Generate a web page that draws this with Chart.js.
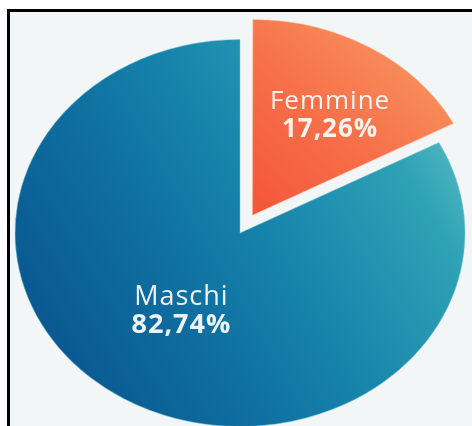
<!DOCTYPE html>
<html>
<head>
<meta charset="utf-8">
<script src="https://cdn.jsdelivr.net/npm/chart.js@4"></script>
<style>
  html, body { margin: 0; padding: 0; width: 472px; height: 426px; overflow: hidden; background: #ffffff; }
  #frame { position: absolute; left: 7px; top: 9px; width: 700px; height: 700px; border: 3px solid #000; background: #f3f6f6; box-sizing: border-box; }
  #wrap { position: absolute; left: 0; top: 0; width: 472px; height: 426px; }
</style>
</head>
<body>
<div id="frame"></div>
<div id="wrap"><canvas id="c"></canvas></div>
<script>
const categories = ['Femmine', 'Maschi'];
const percentages = [17.26, 82.74];
const valueLabels = ['17,26%', '82,74%'];

const SY = 0.86; // vertical squash for the elliptical look

function blueGradient(ctx, arc) {
  const cx = arc.x, cy = arc.y, R = arc.outerRadius;
  const dx = 0.89 * R, dy = -0.45 * R;
  const g = ctx.createLinearGradient(cx - dx, cy - dy, cx + dx, cy + dy);
  g.addColorStop(0, '#0a5990');
  g.addColorStop(0.3, '#0f6e9f');
  g.addColorStop(0.55, '#1683ab');
  g.addColorStop(0.9, '#2ea2b5');
  g.addColorStop(1, '#48b2be');
  return g;
}
function orangeGradient(ctx, arc) {
  const cx = arc.x, cy = arc.y, R = arc.outerRadius;
  const g = ctx.createLinearGradient(cx, cy, cx + 0.85 * R, cy - 0.85 * R);
  g.addColorStop(0, '#f4553a');
  g.addColorStop(0.5, '#f6714a');
  g.addColorStop(1, '#f8975f');
  return g;
}

const squash = {
  id: 'squash',
  beforeDatasetsDraw(chart) {
    const arcs = chart.getDatasetMeta(0).data;
    const ctx = chart.ctx;
    arcs.forEach((arc, i) => {
      arc.options.backgroundColor = i === 0 ? orangeGradient(ctx, arc) : blueGradient(ctx, arc);
    });
    ctx.save();
    ctx.translate(0, arcs[0].y);
    ctx.scale(1, SY);
    ctx.translate(0, -arcs[0].y);
  },
  afterDatasetsDraw(chart) {
    chart.ctx.restore();
    const ctx = chart.ctx;
    const arcs = chart.getDatasetMeta(0).data;
    const radial = [0.6, 0.47];
    const nudgeX = [8, -4];
    const sizes = [26, 27];
    arcs.forEach((arc, i) => {
      const mid = (arc.startAngle + arc.endAngle) / 2;
      const off = (arc.options.offset || 0) / 4;
      const r = off + radial[i] * arc.outerRadius;
      const px = arc.x + Math.cos(mid) * r + nudgeX[i];
      const py = arc.y + Math.sin(mid) * r * SY;
      ctx.save();
      ctx.textAlign = 'center';
      ctx.textBaseline = 'middle';
      ctx.fillStyle = 'rgba(250,250,250,0.95)';
      try { ctx.letterSpacing = '1px'; } catch (e) {}
      ctx.font = '400 ' + sizes[i] + 'px "Open Sans", sans-serif';
      ctx.fillText(categories[i], px, py - 14);
      ctx.font = '700 ' + sizes[i] + 'px "Open Sans", sans-serif';
      ctx.fillText(valueLabels[i], px, py + 14);
      ctx.restore();
    });
  }
};

new Chart(document.getElementById('c'), {
  type: 'pie',
  data: {
    labels: categories,
    datasets: [{
      data: percentages,
      backgroundColor: ['#f56a45', '#137ca8'],
      borderColor: ['rgba(255,200,170,0.6)', 'rgba(120,200,215,0.55)'],
      borderWidth: 1,
      offset: [96, 0],
      radius: 225,
      clip: false
    }]
  },
  options: {
    responsive: true,
    maintainAspectRatio: false,
    animation: false,
    layout: { padding: { left: 8, right: 0, top: 40, bottom: 0 } },
    plugins: { legend: { display: false }, tooltip: { enabled: false } }
  },
  plugins: [squash]
});
</script>
</body>
</html>
